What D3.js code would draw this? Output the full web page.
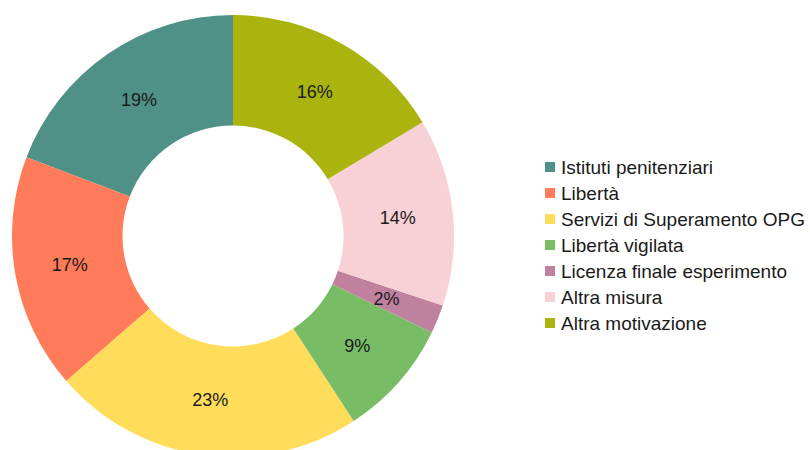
<!DOCTYPE html>
<html>
<head>
<meta charset="utf-8">
<script src="https://cdn.jsdelivr.net/npm/d3@7"></script>
<style>
  body { margin: 0; background: #fff; }
  svg { display: block; font-family: "Liberation Sans", Arial, sans-serif; }
</style>
</head>
<body>
<svg width="810" height="450"></svg>
<script>
// data (shares in percent)
var categories = ["Istituti penitenziari", "Libertà", "Servizi di Superamento OPG",
  "Libertà vigilata", "Licenza finale esperimento", "Altra misura", "Altra motivazione"];
var values = [19.2, 17.2, 22.8, 8.6, 2.1, 13.7, 16.4];
var colors = ["#4f9187", "#ff7b59", "#ffdc5a", "#78bc66", "#bf819e", "#f7d1d6", "#abb30f"];

var svg = d3.select("svg");
var cx = 233, cy = 236;
var rOuter = 221, rInner = 110.5;

var color = d3.scaleOrdinal().domain(categories).range(colors);

// counter-clockwise from 12 o'clock
var pie = d3.pie()
  .sort(null)
  .value(d => d.v)
  .startAngle(0)
  .endAngle(-2 * Math.PI);

var arc = d3.arc().innerRadius(rInner).outerRadius(rOuter);

var data = categories.map((c, i) => ({ c: c, v: values[i] }));
var total = d3.sum(values);

var g = svg.append("g").attr("transform", "translate(" + cx + "," + cy + ")");

var slices = g.selectAll("g.slice")
  .data(pie(data))
  .enter().append("g").attr("class", "slice");

slices.append("path")
  .attr("d", arc)
  .attr("fill", d => color(d.data.c));

slices.append("text")
  .attr("transform", d => "translate(" + arc.centroid(d) + ")")
  .attr("text-anchor", "middle")
  .attr("dy", "0.35em")
  .attr("font-size", "18px")
  .attr("fill", "#1a1a1a")
  .text(d => Math.round(d.data.v / total * 100) + "%");

// legend
var legend = svg.append("g").attr("transform", "translate(545,167)");
var rows = legend.selectAll("g")
  .data(categories)
  .enter().append("g")
  .attr("transform", (d, i) => "translate(0," + i * 26 + ")");

rows.append("rect")
  .attr("x", 0).attr("y", -5)
  .attr("width", 10).attr("height", 10)
  .attr("fill", d => color(d));

rows.append("text")
  .attr("x", 16)
  .attr("dy", "0.35em")
  .attr("font-size", "19px")
  .attr("fill", "#1a1a1a")
  .text(d => d);
</script>
</body>
</html>
